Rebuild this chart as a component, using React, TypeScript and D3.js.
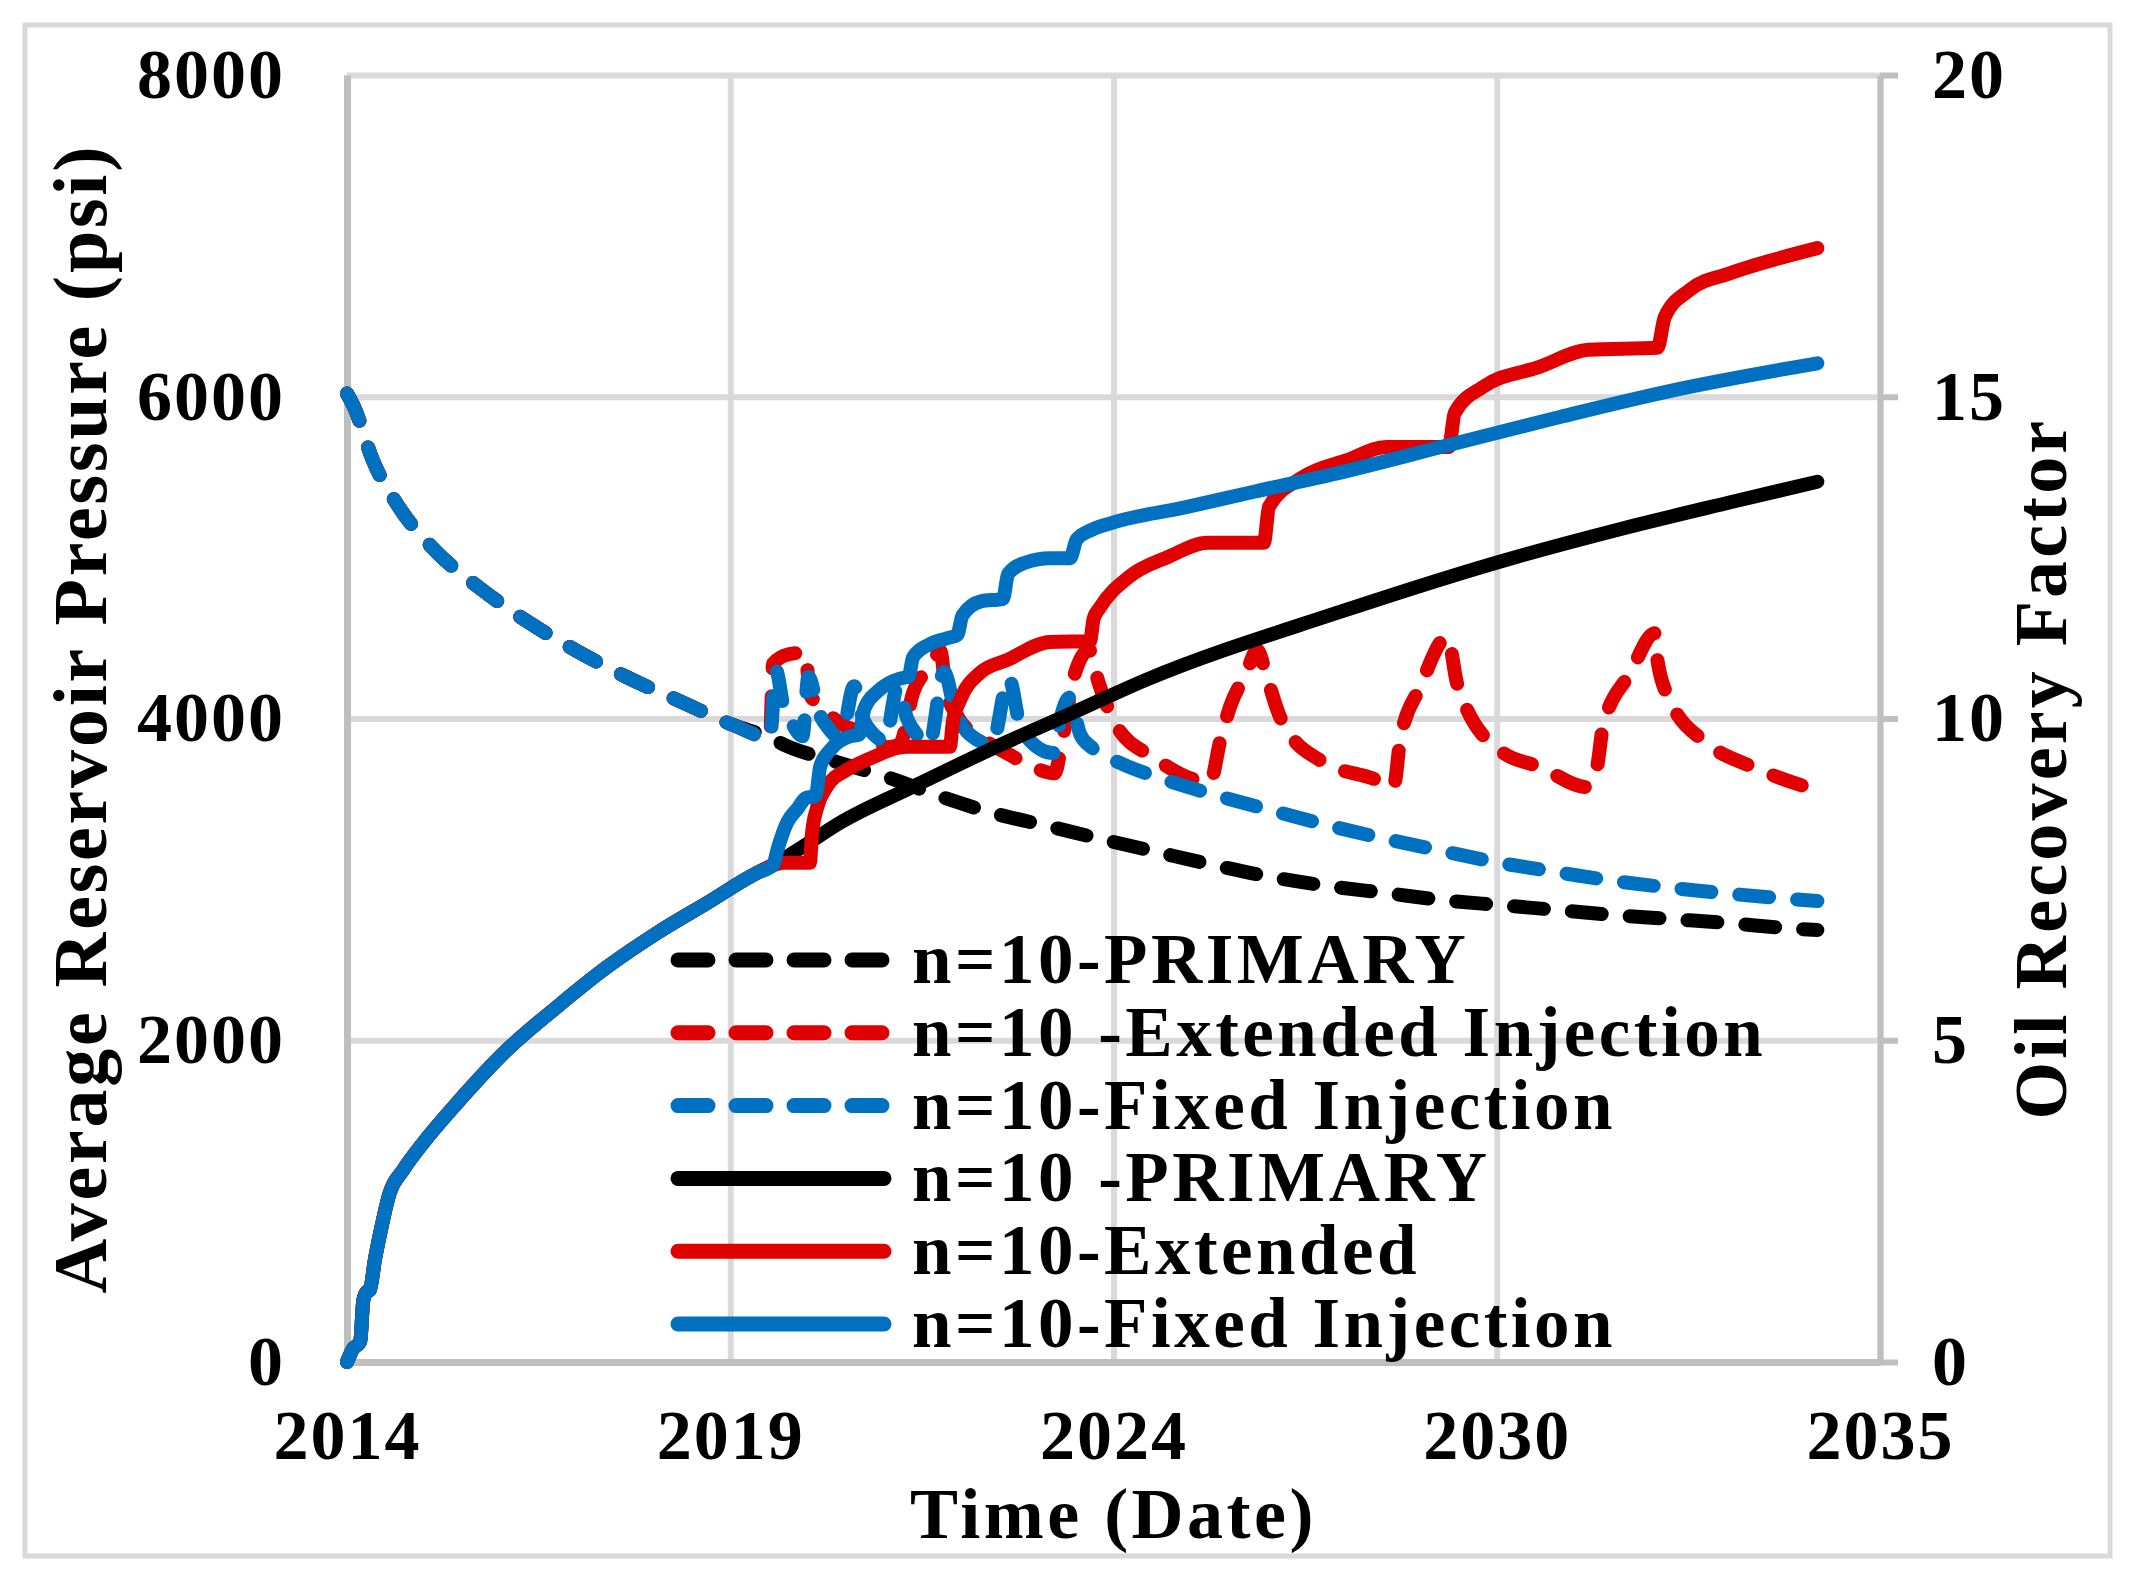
import { useEffect, useRef } from "react";
import * as d3 from "d3";

const W = 2135;
const H = 1583;
const FONT = "'Liberation Serif', 'Times New Roman', serif";

// x axis: date axis, ticks every ~5.2 years starting mid 2014
const xTickValues = [2014.5, 2019.7, 2024.9, 2030.1, 2035.3];
const xTickLabels = ["2014", "2019", "2024", "2030", "2035"];
const pressureTicks = [0, 2000, 4000, 6000, 8000];
const recoveryTicks = [0, 5, 10, 15, 20];

// [year, psi] before injection starts, shared by all three cases
const pressureShared: [number, number][] = [
  [2014.5, 6020], [2014.6, 5932], [2014.85, 5606], [2015.21, 5311], [2015.69, 5047],
  [2016.3, 4811], [2016.94, 4605], [2017.61, 4422], [2018.31, 4254], [2019.03, 4105],
  [2019.74, 3959], [2020.24, 3880],
];
const pressurePrimaryTail: [number, number][] = [
  [2020.44, 3835], [2021.15, 3729], [2021.87, 3630], [2022.57, 3512], [2023.27, 3412],
  [2024.01, 3331], [2024.74, 3250], [2025.49, 3170], [2026.26, 3089], [2027.05, 3014],
  [2027.82, 2958], [2028.6, 2915], [2029.37, 2871], [2030.14, 2840], [2030.93, 2809],
  [2031.7, 2778], [2032.48, 2753], [2033.25, 2728], [2034.04, 2697], [2034.45, 2685],
];
const pressureExtendedTail: [number, number][] = [
  [2020.28, 4340], [2020.5, 4400], [2020.72, 4410], [2020.78, 4150], [2020.88, 4096],
  [2021.28, 3947], [2021.56, 3909], [2021.83, 3822], [2022.0, 3840], [2022.18, 4158],
  [2022.45, 4344], [2022.55, 4420], [2022.62, 4200], [2022.8, 4000], [2023.1, 3880],
  [2023.45, 3785], [2023.7, 3723], [2024.1, 3660], [2024.2, 3850], [2024.35, 4238],
  [2024.57, 4425], [2024.7, 4220], [2024.95, 3947], [2025.44, 3760], [2025.98, 3623],
  [2026.21, 3605], [2026.35, 3866], [2026.48, 4071], [2026.7, 4282], [2026.85, 4425],
  [2026.98, 4257], [2027.16, 4009], [2027.3, 3897], [2027.7, 3741], [2028.48, 3617],
  [2028.7, 3574], [2028.79, 3866], [2029.06, 4195], [2029.43, 4506], [2029.56, 4220],
  [2029.7, 4052], [2029.97, 3866], [2030.19, 3785], [2030.69, 3698], [2031.32, 3574],
  [2031.46, 3698], [2031.54, 3947], [2031.91, 4282], [2032.25, 4531], [2032.28, 4363],
  [2032.45, 4114], [2032.95, 3847], [2033.58, 3698], [2034.31, 3574], [2034.45, 3555],
];
const pressureFixedTail: [number, number][] = [
  [2020.32, 4300], [2020.42, 4080], [2020.55, 3960], [2020.68, 3890], [2020.76, 4260],
  [2020.9, 4040], [2021.05, 3930], [2021.2, 3870], [2021.38, 4200], [2021.5, 4000],
  [2021.65, 3900], [2021.8, 3860], [2021.97, 4200], [2022.1, 4000], [2022.25, 3890],
  [2022.4, 3840], [2022.6, 4290], [2022.75, 4050], [2022.95, 3900], [2023.25, 3840],
  [2023.48, 4250], [2023.65, 3930], [2024.08, 3785], [2024.18, 4000], [2024.3, 4130],
  [2024.45, 3900], [2024.6, 3822], [2024.99, 3723], [2025.53, 3630], [2026.28, 3524],
  [2027.02, 3431], [2027.8, 3337], [2028.54, 3257], [2029.3, 3182], [2030.08, 3108],
  [2030.82, 3052], [2031.6, 2996], [2032.38, 2952], [2033.16, 2915], [2033.93, 2884],
  [2034.45, 2865],
];

// [year, oil recovery factor]
const recoveryShared: [number, number][] = [
  [2014.5, 0], [2014.58, 0.2], [2014.68, 0.32], [2014.72, 0.95], [2014.76, 1.08],
  [2014.81, 1.12], [2014.88, 1.6], [2014.95, 2.0], [2015.08, 2.63], [2015.26, 2.98],
  [2015.53, 3.4], [2015.99, 4.02], [2016.67, 4.85], [2017.35, 5.52], [2018.03, 6.14],
  [2018.71, 6.67], [2019.38, 7.13], [2020.06, 7.6], [2020.28, 7.72],
];
const recoveryPrimaryTail: [number, number][] = [
  [2020.7, 8.02], [2021.19, 8.38], [2022.18, 8.94], [2023.27, 9.54], [2024.35, 10.09],
  [2025.34, 10.6], [2027.93, 11.64], [2030.21, 12.46], [2031.73, 12.93], [2033.27, 13.36],
  [2034.45, 13.68],
];
const recoveryExtendedTail: [number, number][] = [
  [2020.42, 7.76], [2020.78, 7.76], [2020.81, 8.22], [2020.88, 8.62], [2021.01, 8.94],
  [2021.28, 9.2], [2021.56, 9.36], [2022.1, 9.56], [2022.68, 9.56], [2022.72, 9.95],
  [2022.82, 10.29], [2023.09, 10.71], [2023.46, 10.91], [2024.04, 11.19], [2024.58, 11.2],
  [2024.63, 11.55], [2024.72, 11.73], [2025.11, 12.2], [2025.64, 12.51], [2026.18, 12.73],
  [2026.94, 12.73], [2027.01, 13.29], [2027.47, 13.75], [2028.08, 14.02], [2028.6, 14.22],
  [2029.45, 14.22], [2029.53, 14.75], [2029.91, 15.15], [2030.67, 15.46], [2031.35, 15.73],
  [2032.28, 15.76], [2032.38, 16.24], [2032.72, 16.66], [2033.27, 16.92], [2033.86, 17.13],
  [2034.45, 17.31],
];
const recoveryFixedTail: [number, number][] = [
  [2020.35, 8.0], [2020.47, 8.38], [2020.62, 8.61], [2020.72, 8.76], [2020.86, 8.8],
  [2020.92, 9.25], [2021.05, 9.5], [2021.32, 9.72], [2021.45, 9.75], [2021.52, 10.15],
  [2021.7, 10.42], [2022.0, 10.62], [2022.12, 10.65], [2022.18, 10.95], [2022.4, 11.15],
  [2022.65, 11.25], [2022.78, 11.3], [2022.85, 11.6], [2023.1, 11.82], [2023.4, 11.86],
  [2023.47, 12.25], [2023.7, 12.42], [2024.04, 12.49], [2024.31, 12.49], [2024.4, 12.78],
  [2024.6, 12.93], [2024.88, 13.04], [2025.87, 13.28], [2026.79, 13.52], [2027.93, 13.81],
  [2029.45, 14.25], [2030.97, 14.69], [2032.49, 15.1], [2034.45, 15.52],
];

const seriesLabels = [
  "n=10-PRIMARY",
  "n=10 -Extended Injection",
  "n=10-Fixed Injection",
  "n=10 -PRIMARY",
  "n=10-Extended",
  "n=10-Fixed Injection",
];
const seriesColors = ["#000000", "#E10000", "#0070C0", "#000000", "#E10000", "#0070C0"];

export default function App() {
  const svgRef = useRef<SVGSVGElement | null>(null);

  useEffect(() => {
    if (!svgRef.current) return;
    const svg = d3.select(svgRef.current);
    svg.selectAll("*").remove();

    const left = 347;
    const right = 1880;
    const top = 75;
    const bottom = 1362;

    const x = d3.scaleLinear().domain([2014.5, 2035.3]).range([left, right]);
    const yP = d3.scaleLinear().domain([0, 8000]).range([bottom, top]);
    const yR = d3.scaleLinear().domain([0, 20]).range([bottom, top]);

    // outer frame
    svg
      .append("rect")
      .attr("x", 25)
      .attr("y", 25)
      .attr("width", 2085)
      .attr("height", 1531)
      .attr("fill", "#ffffff")
      .attr("stroke", "#d9d9d9")
      .attr("stroke-width", 5);

    // gridlines
    const gx = svg
      .append("g")
      .attr("transform", `translate(0,${bottom})`)
      .call(
        d3
          .axisBottom(x)
          .tickValues(xTickValues)
          .tickSize(-(bottom - top))
          .tickFormat(() => "")
      );
    gx.select(".domain").remove();
    gx.selectAll("line").attr("stroke", "#d9d9d9").attr("stroke-width", 6);

    const gy = svg
      .append("g")
      .attr("transform", `translate(${left},0)`)
      .call(
        d3
          .axisLeft(yP)
          .tickValues(pressureTicks)
          .tickSize(-(right - left))
          .tickFormat(() => "")
      );
    gy.select(".domain").remove();
    gy.selectAll("line").attr("stroke", "#d9d9d9").attr("stroke-width", 6);

    // left axis with labels
    const axL = svg
      .append("g")
      .attr("transform", `translate(${left},0)`)
      .call(
        d3
          .axisLeft(yP)
          .tickValues(pressureTicks)
          .tickSize(0)
          .tickPadding(62)
          .tickFormat((d) => String(d))
      );
    axL.select(".domain").attr("stroke", "#bfbfbf").attr("stroke-width", 7);

    // right axis
    const axR = svg
      .append("g")
      .attr("transform", `translate(${right},0)`)
      .call(
        d3
          .axisRight(yR)
          .tickValues(recoveryTicks)
          .tickSizeInner(18)
          .tickSizeOuter(0)
          .tickPadding(34)
          .tickFormat((d) => String(d))
      );
    axR.select(".domain").attr("stroke", "#bfbfbf").attr("stroke-width", 6);
    axR.selectAll("line").attr("stroke", "#bfbfbf").attr("stroke-width", 6);

    // bottom axis
    const axB = svg
      .append("g")
      .attr("transform", `translate(0,${bottom})`)
      .call(
        d3
          .axisBottom(x)
          .tickValues(xTickValues)
          .tickSize(0)
          .tickPadding(47)
          .tickFormat((_, i) => xTickLabels[i])
      );
    axB.select(".domain").attr("stroke", "#bfbfbf").attr("stroke-width", 7);

    [axL, axR, axB].forEach((g) =>
      g
        .selectAll("text")
        .attr("font-family", FONT)
        .attr("font-weight", "bold")
        .attr("font-size", 70)
        .attr("letter-spacing", 2)
        .attr("fill", "#000")
    );

    // series
    const lineP = d3
      .line<[number, number]>()
      .x((d) => x(d[0]))
      .y((d) => yP(d[1]))
      .curve(d3.curveMonotoneX);
    const lineR = d3
      .line<[number, number]>()
      .x((d) => x(d[0]))
      .y((d) => yR(d[1]))
      .curve(d3.curveMonotoneX);

    const series = [
      { data: pressureShared.concat(pressurePrimaryTail), line: lineP, dashed: true },
      { data: pressureShared.concat(pressureExtendedTail), line: lineP, dashed: true },
      { data: pressureShared.concat(pressureFixedTail), line: lineP, dashed: true },
      { data: recoveryShared.concat(recoveryPrimaryTail), line: lineR, dashed: false },
      { data: recoveryShared.concat(recoveryExtendedTail), line: lineR, dashed: false },
      { data: recoveryShared.concat(recoveryFixedTail), line: lineR, dashed: false },
    ];

    series.forEach((s, i) => {
      svg
        .append("path")
        .datum(s.data)
        .attr("fill", "none")
        .attr("stroke", seriesColors[i])
        .attr("stroke-width", 14)
        .attr("stroke-linecap", "round")
        .attr("stroke-linejoin", "round")
        .attr("stroke-dasharray", s.dashed ? "30 28" : null)
        .attr("d", s.line(s.data));
    });

    // legend
    const legend = svg.append("g");
    seriesLabels.forEach((label, i) => {
      const cy = 960 + i * 72.8;
      legend
        .append("line")
        .attr("x1", 678)
        .attr("x2", 884)
        .attr("y1", cy)
        .attr("y2", cy)
        .attr("stroke", seriesColors[i])
        .attr("stroke-width", 15)
        .attr("stroke-linecap", "round")
        .attr("stroke-dasharray", series[i].dashed ? "30 28" : null);
      legend
        .append("text")
        .attr("x", 912)
        .attr("y", cy + 23)
        .attr("font-family", FONT)
        .attr("font-weight", "bold")
        .attr("font-size", 71)
        .attr("letter-spacing", 3.5)
        .attr("fill", "#000")
        .text(label);
    });

    // axis titles
    svg
      .append("text")
      .attr("transform", `translate(106,${(top + bottom) / 2}) rotate(-90)`)
      .attr("text-anchor", "middle")
      .attr("font-family", FONT)
      .attr("font-weight", "bold")
      .attr("font-size", 76)
      .attr("letter-spacing", 2.8)
      .text("Average Reservoir Pressure (psi)");

    svg
      .append("text")
      .attr("transform", `translate(2066,${(top + bottom) / 2 + 50}) rotate(-90)`)
      .attr("text-anchor", "middle")
      .attr("font-family", FONT)
      .attr("font-weight", "bold")
      .attr("font-size", 74)
      .attr("letter-spacing", 3.2)
      .text("Oil Recovery Factor");

    svg
      .append("text")
      .attr("x", (left + right) / 2)
      .attr("y", 1538)
      .attr("text-anchor", "middle")
      .attr("font-family", FONT)
      .attr("font-weight", "bold")
      .attr("font-size", 72)
      .attr("letter-spacing", 3.5)
      .text("Time (Date)");
  }, []);

  return (
    <svg
      ref={svgRef}
      width={W}
      height={H}
      style={{ position: "absolute", left: 0, top: 0, display: "block", background: "#ffffff" }}
    ></svg>
  );
}
